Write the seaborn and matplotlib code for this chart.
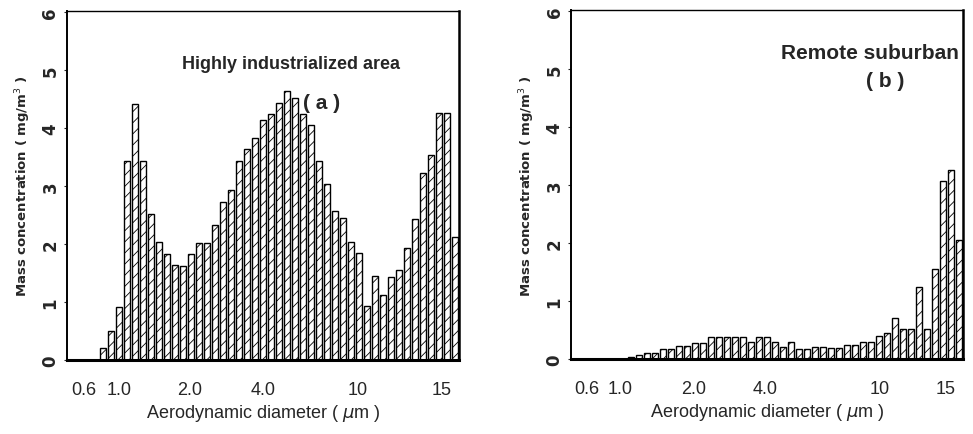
import numpy as np
import pandas as pd
import matplotlib
matplotlib.use("Agg")
import matplotlib.pyplot as plt
import seaborn as sns

# 45 size bins (equal log-width), left to right
bins = list(range(1, 46))

industrial = [0.21, 0.50, 0.91, 3.43, 4.42, 3.43, 2.52, 2.03, 1.83, 1.64,
              1.63, 1.83, 2.02, 2.02, 2.33, 2.73, 2.94, 3.43, 3.64, 3.83,
              4.15, 4.25, 4.44, 4.64, 4.53, 4.25, 4.05, 3.43, 3.04, 2.58,
              2.45, 2.04, 1.85, 0.93, 1.45, 1.13, 1.44, 1.55, 1.93, 2.44,
              3.23, 3.54, 4.27, 4.27, 2.13]

suburban = [0.00, 0.00, 0.01, 0.03, 0.07, 0.10, 0.10, 0.18, 0.18, 0.23,
            0.23, 0.28, 0.28, 0.39, 0.39, 0.39, 0.39, 0.39, 0.29, 0.39,
            0.39, 0.29, 0.21, 0.29, 0.17, 0.17, 0.21, 0.21, 0.20, 0.20,
            0.24, 0.24, 0.29, 0.29, 0.40, 0.46, 0.71, 0.52, 0.52, 1.25,
            0.52, 1.55, 3.07, 3.26, 2.05]

tick_labels = ["0.6", "1.0", "2.0", "4.0", "10", "15"]
y_ticks = [0, 1, 2, 3, 4, 5, 6]

sns.set_style("white")
plt.rcParams['font.family'] = ['Liberation Sans', 'DejaVu Sans']
plt.rcParams['hatch.linewidth'] = 0.6
plt.rcParams['hatch.color'] = '#2a2a2a'


def size_panel(ax, values, tick_pos, title, title_xy, title_ha, title_size, tag, tag_xy):
    """Hatched bar histogram of mass concentration per size bin."""
    df = pd.DataFrame({'bin': bins, 'mass': values})
    sns.barplot(data=df, x='bin', y='mass', ax=ax, color='white',
                edgecolor='black', linewidth=1.0, width=0.72, saturation=1)
    for p in ax.patches:
        p.set_hatch('///')
        p.set_facecolor('white')

    ax.set_xlim(-4.5, 44.55)
    ax.set_ylim(0, 6.02)
    ax.set_xticks(tick_pos)
    ax.set_xticklabels(tick_labels, fontsize=13)
    ax.set_yticks(y_ticks)
    ax.set_yticklabels([str(t) for t in y_ticks], fontsize=12, rotation=90,
                       va='center', fontweight='bold', family='DejaVu Sans')
    ax.tick_params(axis='x', length=0, pad=15)
    ax.tick_params(axis='y', length=2.5, width=0.8, direction='out', pad=3, left=True)
    ax.set_xlabel('Aerodynamic diameter ( $\\mu$m )', fontsize=13, labelpad=3)
    ax.set_ylabel('Mass concentration ( mg/m$^3$ )', fontsize=9.5,
                  fontweight='bold', family='DejaVu Sans', labelpad=6)

    for side in ['left', 'right', 'top', 'bottom']:
        ax.spines[side].set_visible(True)
        ax.spines[side].set_color('black')
    ax.spines['bottom'].set_linewidth(2.2)
    ax.spines['left'].set_linewidth(1.4)
    ax.spines['right'].set_linewidth(1.8)
    ax.spines['top'].set_linewidth(1.0)

    ax.text(title_xy[0], title_xy[1], title, transform=ax.transAxes,
            ha=title_ha, va='center', fontsize=title_size, fontweight='bold')
    ax.text(tag_xy[0], tag_xy[1], tag, transform=ax.transAxes,
            ha='center', va='center', fontsize=15, fontweight='bold')


fig = plt.figure(figsize=(9.73, 4.35), dpi=100)
ax_a = fig.add_axes([0.069, 0.170, 0.403, 0.802])
ax_b = fig.add_axes([0.587, 0.172, 0.403, 0.802])

size_panel(ax_a, industrial, [-2.4, 2.0, 10.8, 20.05, 31.9, 42.4],
           'Highly industrialized area', (0.571, 0.85), 'center', 13,
           '( a )', (0.65, 0.739))
size_panel(ax_b, suburban, [-2.6, 1.6, 10.8, 19.8, 34.1, 42.4],
           'Remote suburban', (0.99, 0.88), 'right', 15,
           '( b )', (0.80, 0.80))

fig.savefig('out.png', dpi=100)
